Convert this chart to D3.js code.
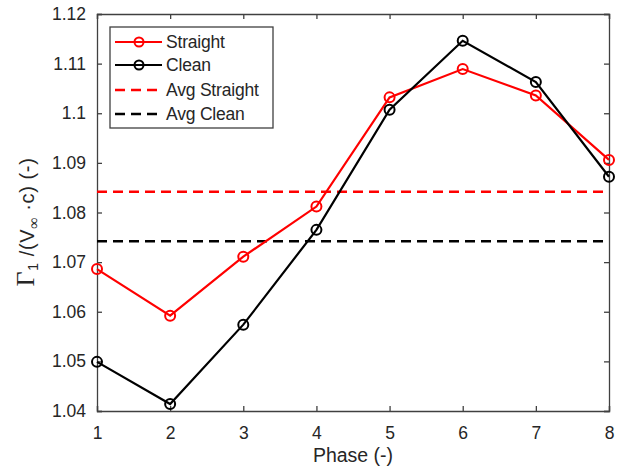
<!DOCTYPE html>
<html><head><meta charset="utf-8">
<script src="https://cdn.jsdelivr.net/npm/d3@7"></script>
<style>body{margin:0;background:#fff}svg{display:block}text{font-family:"Liberation Sans",Arial,sans-serif;fill:#262626}</style>
</head><body><svg id="c" width="618" height="476"></svg>
<script>
const phases = [1,2,3,4,5,6,7,8];
const straight = [1.0686,1.0592,1.0711,1.0812,1.1032,1.1089,1.1036,1.0906];
const clean = [1.0499,1.0414,1.0574,1.0765,1.1007,1.1146,1.1063,1.0872];
const avgStraight = 1.0842;
const avgClean = 1.0742;
const xTicks = [1,2,3,4,5,6,7,8];
const yTicks = [1.04,1.05,1.06,1.07,1.08,1.09,1.10,1.11,1.12];
const yTickLabels = ["1.04","1.05","1.06","1.07","1.08","1.09","1.1","1.11","1.12"];
const legendLabels = ["Straight","Clean","Avg Straight","Avg Clean"];

const svg = d3.select("#c");
const L=97,R=609,T=14,B=411;
const x = d3.scaleLinear().domain([1,8]).range([L,R]);
const y = d3.scaleLinear().domain([1.04,1.12]).range([B,T]);
const axCol="#404040";

// axes
const gB = svg.append("g").attr("transform",`translate(0,${B})`)
  .call(d3.axisBottom(x).tickValues(xTicks).tickSize(-5).tickPadding(16).tickFormat(d3.format("d")));
const gT = svg.append("g").attr("transform",`translate(0,${T})`)
  .call(d3.axisTop(x).tickValues(xTicks).tickSize(-5).tickFormat(""));
const gL = svg.append("g").attr("transform",`translate(${L},0)`)
  .call(d3.axisLeft(y).tickValues(yTicks).tickSize(-5).tickPadding(11).tickFormat((d,i)=>yTickLabels[i]));
const gR = svg.append("g").attr("transform",`translate(${R},0)`)
  .call(d3.axisRight(y).tickValues(yTicks).tickSize(-5).tickFormat(""));
[gB,gT,gL,gR].forEach(g=>{
  g.selectAll("path").attr("stroke",axCol).attr("stroke-width",1.3);
  g.selectAll("line").attr("stroke",axCol).attr("stroke-width",1.3);
  g.selectAll("text").style("font-family","'Liberation Sans',Arial,sans-serif").attr("font-size",17.5).attr("fill","#262626");
});
gB.selectAll(".tick text").attr("dy","0.71em");

// avg lines
svg.append("line").attr("x1",x(1)).attr("x2",x(8)).attr("y1",y(avgStraight)).attr("y2",y(avgStraight))
  .attr("stroke","#ff0000").attr("stroke-width",2.5).attr("stroke-dasharray","10,6");
svg.append("line").attr("x1",x(1)).attr("x2",x(8)).attr("y1",y(avgClean)).attr("y2",y(avgClean))
  .attr("stroke","#000").attr("stroke-width",2.5).attr("stroke-dasharray","10,6");

const line = d3.line().x((d,i)=>x(phases[i])).y(d=>y(d));
function series(vals,col){
  svg.append("path").datum(vals).attr("d",line).attr("fill","none").attr("stroke",col).attr("stroke-width",2.2);
  svg.selectAll(null).data(vals).enter().append("circle")
    .attr("cx",(d,i)=>x(phases[i])).attr("cy",d=>y(d)).attr("r",5)
    .attr("fill","none").attr("stroke",col).attr("stroke-width",2);
}
series(straight,"#ff0000");
series(clean,"#000");

// legend
const lg = svg.append("g");
lg.append("rect").attr("x",110).attr("y",27).attr("width",163).attr("height",101)
  .attr("fill","#fff").attr("stroke",axCol).attr("stroke-width",1.3);
const lgY=[42,65,90,114], lgCol=["#ff0000","#000","#ff0000","#000"];
legendLabels.forEach((t,i)=>{
  const ln = lg.append("line").attr("x1",115).attr("x2",162).attr("y1",lgY[i]).attr("y2",lgY[i])
    .attr("stroke",lgCol[i]).attr("stroke-width",2.2);
  if(i<2){ lg.append("circle").attr("cx",139).attr("cy",lgY[i]).attr("r",4.5).attr("fill","none").attr("stroke",lgCol[i]).attr("stroke-width",2); }
  else ln.attr("stroke-dasharray","10,6").attr("stroke-width",2.5);
  lg.append("text").attr("x",166).attr("y",lgY[i]).attr("dy","0.35em").attr("font-size",17.5).attr("letter-spacing","-0.2").text(t);
});

// x label
svg.append("text").attr("x",353).attr("y",462).attr("text-anchor","middle").attr("font-size",19.5).text("Phase (-)");

// y label
const yl = svg.append("text").attr("transform",`translate(34,222) rotate(-90)`).attr("text-anchor","middle").attr("font-size",20).attr("letter-spacing","0.6");
yl.append("tspan").style("font-family","'Liberation Serif','Times New Roman',serif").attr("font-size",26).text("Γ");
yl.append("tspan").attr("dy",4).attr("font-size",14).text("1");
yl.append("tspan").attr("dy",-4).text(" /(V");
yl.append("tspan").attr("dy",5).attr("font-size",16).style("font-family","'Liberation Serif',serif").text("∞");
yl.append("tspan").attr("dy",-5).text(" ·c)  (-)");
</script></body></html>
